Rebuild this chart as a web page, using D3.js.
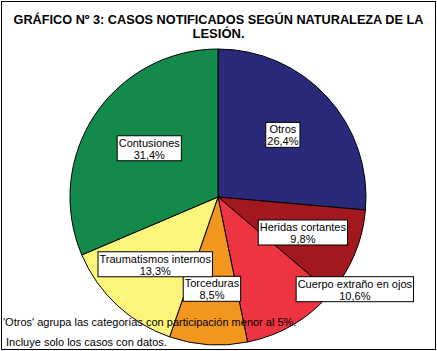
<!DOCTYPE html>
<html>
<head>
<meta charset="utf-8">
<script src="https://cdn.jsdelivr.net/npm/d3@7"></script>
<style>
  body { margin: 0; background: #fff; }
  text { font-family: "Liberation Sans", Arial, sans-serif; }
</style>
</head>
<body>
<div id="chart"></div>
<script>
// --------------- Data ---------------
const CATEGORIES = ["Otros", "Heridas cortantes", "Cuerpo extraño en ojos", "Torceduras", "Traumatismos internos", "Contusiones"];
const VALUES = [26.4, 9.8, 10.6, 8.5, 13.3, 31.4];
const VALUE_LABELS = ["26,4%", "9,8%", "10,6%", "8,5%", "13,3%", "31,4%"];
const TITLE_LINES = ["GRÁFICO Nº 3: CASOS NOTIFICADOS SEGÚN NATURALEZA DE LA", "LESIÓN."];
const NOTES = ["'Otros' agrupa las categorías con participación menor al 5%.", "Incluye solo los casos con datos."];

// --------------- Constants ---------------
const WIDTH = 437;
const HEIGHT = 351;
const CENTER = { x: 218, y: 197 };
const RADIUS = 148;
const LABEL_RADIUS = 92;
const COLORS = ["#2a2a7a", "#a3171e", "#ee3440", "#f3961d", "#fbf57c", "#138a4b"];
// label nudges to keep boxes apart (px)
const LABEL_SHIFT = {
  "Otros": [-3, 0],
  "Heridas cortantes": [0, 0],
  "Cuerpo extraño en ojos": [90, 13],
  "Contusiones": [8, 2],
  "Traumatismos internos": [0, 0],
  "Torceduras": [0, 0]
};

const svg = d3.select("#chart")
  .append("svg")
  .attr("width", WIDTH)
  .attr("height", HEIGHT);

svg.append("rect")
  .attr("width", WIDTH)
  .attr("height", HEIGHT)
  .attr("fill", "#fff");

// --------------- Pie ---------------
const pie = d3.pie().sort(null).value(d => d.value);
const slices = pie(CATEGORIES.map((c, i) => ({ name: c, value: VALUES[i], label: VALUE_LABELS[i], color: COLORS[i] })));
const arc = d3.arc().innerRadius(0).outerRadius(RADIUS);
const labelArc = d3.arc().innerRadius(LABEL_RADIUS).outerRadius(LABEL_RADIUS);

const g = svg.append("g").attr("transform", `translate(${CENTER.x},${CENTER.y})`);

g.selectAll("path")
  .data(slices)
  .join("path")
  .attr("d", arc)
  .attr("fill", d => d.data.color)
  .attr("stroke", "#000")
  .attr("stroke-width", 1);

// --------------- Labels ---------------
slices.forEach(d => {
  const [cx, cy] = labelArc.centroid(d);
  const shift = LABEL_SHIFT[d.data.name] || [0, 0];
  const x = cx + shift[0];
  const y = cy + shift[1];
  const lg = g.append("g").attr("transform", `translate(${x},${y})`);
  const box = lg.append("rect");
  const t1 = lg.append("text")
    .attr("text-anchor", "middle")
    .attr("y", -1.5)
    .attr("font-size", 11)
    .text(d.data.name);
  const t2 = lg.append("text")
    .attr("text-anchor", "middle")
    .attr("y", 10.5)
    .attr("font-size", 11)
    .text(d.data.label);
  const w = Math.max(t1.node().getComputedTextLength(), t2.node().getComputedTextLength()) + 3;
  box.attr("x", -w / 2)
    .attr("y", -12.5)
    .attr("width", w)
    .attr("height", 25)
    .attr("fill", "#fff")
    .attr("stroke", "#000")
    .attr("stroke-width", 1);
});

// --------------- Title ---------------
svg.append("text")
  .attr("x", WIDTH / 2)
  .attr("y", 24)
  .attr("text-anchor", "middle")
  .attr("font-size", 13)
  .attr("font-weight", "bold")
  .attr("textLength", 410)
  .attr("lengthAdjust", "spacingAndGlyphs")
  .text(TITLE_LINES[0]);
svg.append("text")
  .attr("x", WIDTH / 2)
  .attr("y", 38)
  .attr("text-anchor", "middle")
  .attr("font-size", 13)
  .attr("font-weight", "bold")
  .text(TITLE_LINES[1]);

// --------------- Notes ---------------
svg.append("text")
  .attr("x", 3)
  .attr("y", 326)
  .attr("font-size", 11)
  .text(NOTES[0]);
svg.append("text")
  .attr("x", 6)
  .attr("y", 346)
  .attr("font-size", 11)
  .text(NOTES[1]);

// frame
svg.append("rect")
  .attr("x", 1.5)
  .attr("y", 1.5)
  .attr("width", WIDTH - 3)
  .attr("height", HEIGHT - 3)
  .attr("fill", "none")
  .attr("stroke", "#000")
  .attr("stroke-width", 1);
</script>
</body>
</html>
